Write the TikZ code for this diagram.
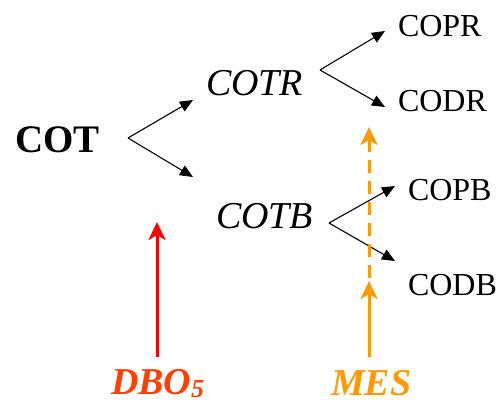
\documentclass[tikz,border=0pt]{standalone}
\usepackage{fontspec}
\setmainfont{Liberation Serif}
\usetikzlibrary{arrows.meta}
\definecolor{redarrow}{RGB}{255,0,0}
\definecolor{dbocol}{RGB}{255,64,0}
\definecolor{mescol}{RGB}{255,153,0}
\tikzset{
  lbl/.style={inner sep=0pt, outer sep=0pt, anchor=base west},
  big/.style={lbl, font=\fontsize{38}{40}\selectfont},
  small/.style={lbl, font=\fontsize{32}{34}\selectfont},
  fork/.style={line width=1.1pt, -{Triangle[length=13pt,width=11pt]}},
  push/.style={line width=3pt, -{Stealth[length=18pt,width=17pt,inset=5pt]}},
}
\begin{document}
\begin{tikzpicture}[x=1pt,y=-1pt]
\useasboundingbox (0,0) rectangle (500,407);

% labels
\node[big, font=\fontsize{39}{40}\selectfont\bfseries] (cot) at (15,152) {COT};
\node[big, font=\fontsize{38}{40}\selectfont\itshape] (cotr) at (206,95) {COTR};
\node[big, font=\fontsize{38}{40}\selectfont\itshape] (cotb) at (216,228) {COTB};
\node[small] (copr) at (398,36) {COPR};
\node[small] (codr) at (398,111) {CODR};
\node[small] (copb) at (408,200) {COPB};
\node[small] (codb) at (408,295) {CODB};
\node[lbl, text=dbocol, font=\fontsize{38}{40}\selectfont\bfseries\itshape] (dbo) at (111,394)
  {DBO\raisebox{-0.1em}{\fontsize{26}{26}\selectfont 5}};
\node[lbl, text=mescol, font=\fontsize{38}{40}\selectfont\bfseries\itshape] (mes) at (331,395) {MES};

% branching points and arrow ends
\coordinate (v1) at (128,138);
\coordinate (v1a) at (193,100);
\coordinate (v1b) at (193,177);
\coordinate (v2) at (320,70);
\coordinate (v2a) at (385,31);
\coordinate (v2b) at (385,107);
\coordinate (v3) at (329,223);
\coordinate (v3a) at (395,186);
\coordinate (v3b) at (395,261);

\draw[fork] (v1) -- (v1a);
\draw[fork] (v1) -- (v1b);
\draw[fork] (v2) -- (v2a);
\draw[fork] (v2) -- (v2b);
\draw[fork] (v3) -- (v3a);
\draw[fork] (v3) -- (v3b);

% influences
\coordinate (r0) at (157,357);
\coordinate (r1) at (157,222);
\draw[push, redarrow] (r0) -- (r1);

\coordinate (m0) at (369,357);
\coordinate (m1) at (369,281);
\draw[push, mescol] (m0) -- (m1);

\coordinate (d0) at (369,278);
\coordinate (d1) at (369,127);
\draw[push, mescol, dash pattern=on 13pt off 8pt] (d0) -- (d1);
\end{tikzpicture}
\end{document}
